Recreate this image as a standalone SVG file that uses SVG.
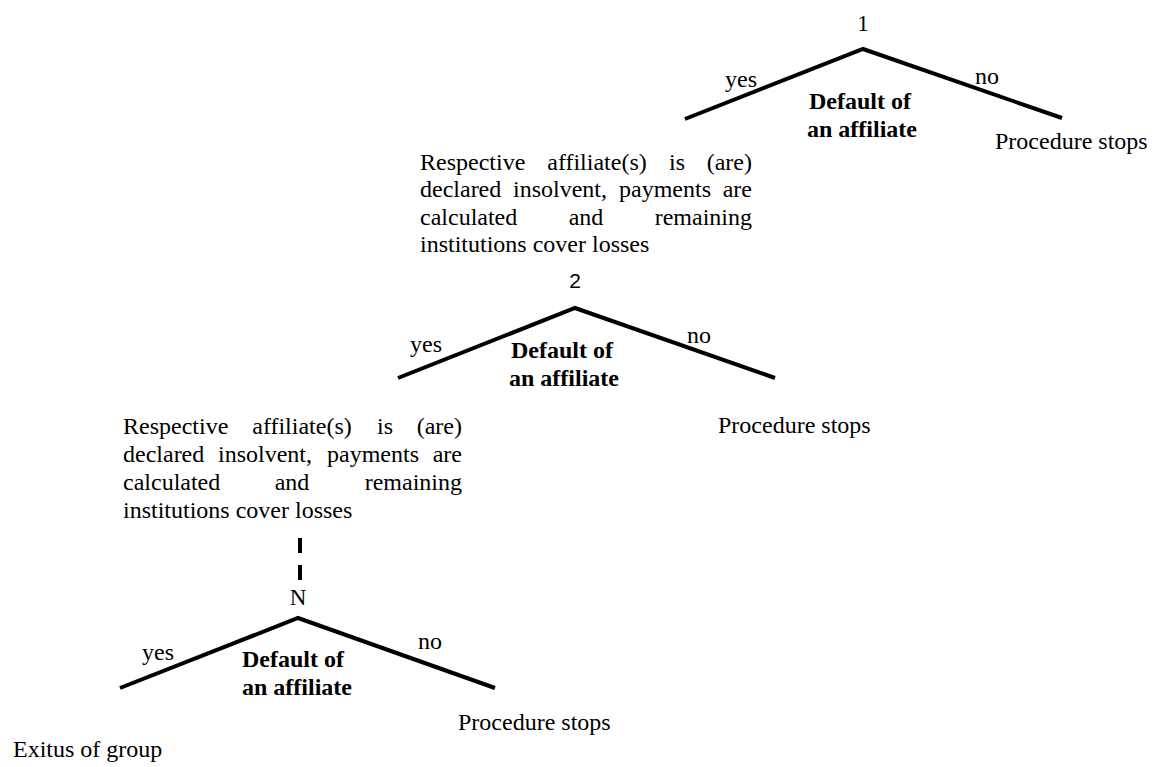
<svg xmlns="http://www.w3.org/2000/svg" width="1160" height="767" viewBox="0 0 1160 767">
<style>
.t{font-family:"Liberation Serif","Times New Roman",serif;font-size:24px;fill:#000}
.b{font-family:"Liberation Serif","Times New Roman",serif;font-size:24px;font-weight:bold;fill:#000;text-anchor:middle}
.n{font-family:"Liberation Serif","Times New Roman",serif;font-size:23px;fill:#000;text-anchor:middle}
.s{font-family:"Liberation Sans",Arial,sans-serif;font-size:21px;fill:#000;text-anchor:middle}
.e{text-anchor:end}
.m{text-anchor:middle}
.l{fill:none;stroke:#000;stroke-width:4;stroke-linejoin:miter}
.d{fill:none;stroke:#000;stroke-width:4;stroke-dasharray:15 12}
</style>
<rect width="1160" height="767" fill="#fff"/>
<g id="connectors">
<polyline class="l" points="685,119 863,49 1062,118"/>
<polyline class="l" points="398,378 575,308 775,378"/>
<line class="d" x1="300" y1="538" x2="300" y2="580"/>
<polyline class="l" points="120,688 298,618 495,688"/>
<text class="t" x="725" y="87">yes</text>
<text class="t" x="975" y="84">no</text>
<text class="t" x="410" y="352">yes</text>
<text class="t" x="687" y="343">no</text>
<text class="t" x="142" y="660">yes</text>
<text class="t" x="418" y="649">no</text>
</g>
<g id="node-1">
<text class="n" x="863" y="31">1</text>
<text class="b" x="860" y="109">Default of</text>
<text class="b" x="862" y="137">an affiliate</text>
</g>
<g id="stop-1">
<text class="t" x="995" y="149">Procedure stops</text>
</g>
<g id="outcome-1">
<text class="t" x="420" y="170">Respective</text>
<text class="t m" x="597" y="170">affiliate(s)</text>
<text class="t m" x="677" y="170">is</text>
<text class="t e" x="752" y="170">(are)</text>
<text class="t" x="420" y="197">declared</text>
<text class="t m" x="560" y="197">insolvent,</text>
<text class="t m" x="665" y="197">payments</text>
<text class="t e" x="752" y="197">are</text>
<text class="t" x="420" y="225">calculated</text>
<text class="t m" x="586" y="225">and</text>
<text class="t e" x="752" y="225">remaining</text>
<text class="t" x="420" y="252">institutions cover losses</text>
</g>
<g id="node-2">
<text class="s" x="575" y="288">2</text>
<text class="b" x="562" y="358">Default of</text>
<text class="b" x="564" y="386">an affiliate</text>
</g>
<g id="stop-2">
<text class="t" x="718" y="433">Procedure stops</text>
</g>
<g id="outcome-2">
<text class="t" x="123" y="434">Respective</text>
<text class="t m" x="302" y="434">affiliate(s)</text>
<text class="t m" x="385" y="434">is</text>
<text class="t e" x="462" y="434">(are)</text>
<text class="t" x="123" y="462">declared</text>
<text class="t m" x="265" y="462">insolvent,</text>
<text class="t m" x="373" y="462">payments</text>
<text class="t e" x="462" y="462">are</text>
<text class="t" x="123" y="490">calculated</text>
<text class="t m" x="292" y="490">and</text>
<text class="t e" x="462" y="490">remaining</text>
<text class="t" x="123" y="518">institutions cover losses</text>
</g>
<g id="node-N">
<text class="n" x="298" y="605">N</text>
<text class="b" x="293" y="667">Default of</text>
<text class="b" x="297" y="695">an affiliate</text>
</g>
<g id="stop-N">
<text class="t" x="458" y="730">Procedure stops</text>
</g>
<g id="exitus">
<text class="t" x="13" y="757">Exitus of group</text>
</g>
</svg>
